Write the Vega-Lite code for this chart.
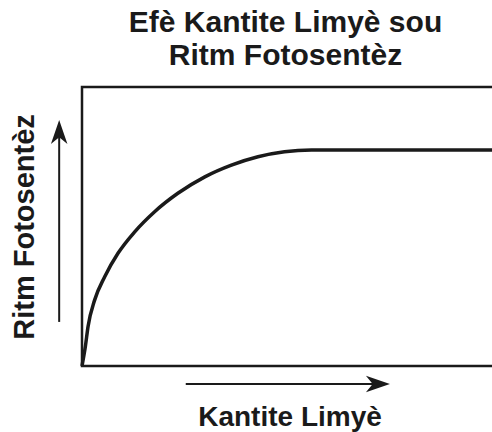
{
  "$schema": "https://vega.github.io/schema/vega-lite/v6.json",
  "autosize": {"type": "none"},
  "padding": {"left": 82, "top": 87, "right": 0, "bottom": 66},
  "width": 415,
  "height": 279,
  "background": "white",
  "config": {
    "view": {"stroke": "#1a1a1a", "strokeWidth": 2.5},
    "font": "Liberation Sans"
  },
  "title": {
    "text": ["Efè Kantite Limyè sou", "Ritm Fotosentèz"],
    "fontSize": 30,
    "fontWeight": "bold",
    "font": "Liberation Sans",
    "color": "#1a1a1a",
    "lineHeight": 33,
    "anchor": "middle",
    "offset": 16,
    "dx": -4
  },
  "datasets": {
    "curve": [
      {"x": 0, "y": 0},
      {"x": 0.8, "y": 6.9},
      {"x": 1.45, "y": 14.1},
      {"x": 3.06, "y": 23.7},
      {"x": 5.47, "y": 32.0},
      {"x": 8.67, "y": 40.4},
      {"x": 12.7, "y": 48.1},
      {"x": 17.5, "y": 55.3},
      {"x": 23.1, "y": 61.9},
      {"x": 29.6, "y": 67.8},
      {"x": 36.0, "y": 72.0},
      {"x": 42.4, "y": 75.0},
      {"x": 48.8, "y": 76.8},
      {"x": 55.3, "y": 77.4},
      {"x": 100, "y": 77.4}
    ],
    "vline": [{"x": -5.5, "y": 15.8, "y2": 85}],
    "hline": [{"x": 25, "x2": 72, "y": -6.45}],
    "uphead": [{"x": -5.5, "y": 88.2}],
    "righthead": [{"x": 74.2, "y": -6.45}]
  },
  "layer": [
    {
      "data": {"name": "curve"},
      "mark": {"type": "line", "color": "#1a1a1a", "strokeWidth": 3.5, "interpolate": "monotone", "strokeJoin": "round"},
      "encoding": {
        "x": {
          "field": "x", "type": "quantitative",
          "scale": {"domain": [0, 100], "nice": false, "zero": false},
          "axis": {
            "title": "Kantite Limyè", "domain": false, "ticks": false, "labels": false, "grid": false,
            "titleFont": "Liberation Sans", "titleFontSize": 28, "titleFontWeight": "bold",
            "titleColor": "#1a1a1a", "titlePadding": 37
          }
        },
        "y": {
          "field": "y", "type": "quantitative",
          "scale": {"domain": [0, 100], "nice": false, "zero": false},
          "axis": {
            "title": "Ritm Fotosentèz", "domain": false, "ticks": false, "labels": false, "grid": false,
            "titleFont": "Liberation Sans", "titleFontSize": 29, "titleFontWeight": "bold",
            "titleColor": "#1a1a1a", "titlePadding": 43
          }
        }
      }
    },
    {
      "data": {"name": "vline"},
      "mark": {"type": "rule", "color": "#1a1a1a", "strokeWidth": 2},
      "encoding": {
        "x": {"field": "x", "type": "quantitative"},
        "y": {"field": "y", "type": "quantitative"},
        "y2": {"field": "y2"}
      }
    },
    {
      "data": {"name": "hline"},
      "mark": {"type": "rule", "color": "#1a1a1a", "strokeWidth": 2},
      "encoding": {
        "x": {"field": "x", "type": "quantitative"},
        "x2": {"field": "x2"},
        "y": {"field": "y", "type": "quantitative"}
      }
    },
    {
      "data": {"name": "uphead"},
      "mark": {"type": "point", "shape": "M0,0L-0.55,1.6L0,1.15L0.55,1.6Z", "filled": true, "fill": "#1a1a1a", "stroke": null, "opacity": 1, "size": 900},
      "encoding": {
        "x": {"field": "x", "type": "quantitative"},
        "y": {"field": "y", "type": "quantitative"}
      }
    },
    {
      "data": {"name": "righthead"},
      "mark": {"type": "point", "shape": "M0,0L-1.6,-0.55L-1.15,0L-1.6,0.55Z", "filled": true, "fill": "#1a1a1a", "stroke": null, "opacity": 1, "size": 900},
      "encoding": {
        "x": {"field": "x", "type": "quantitative"},
        "y": {"field": "y", "type": "quantitative"}
      }
    }
  ]
}
